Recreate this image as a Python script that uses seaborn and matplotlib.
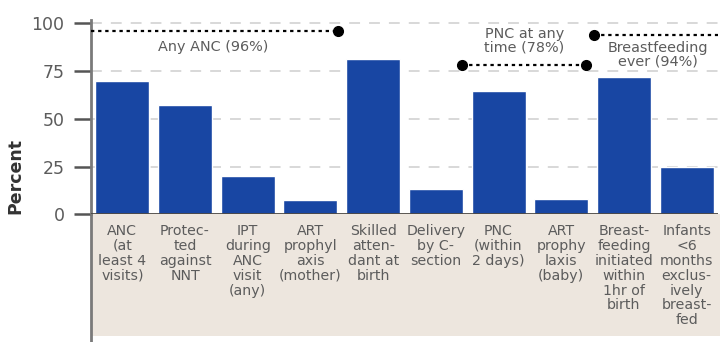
import matplotlib
matplotlib.use("Agg")
import matplotlib.pyplot as plt
from matplotlib.patches import Rectangle
from matplotlib.lines import Line2D
import seaborn as sns
import pandas as pd

# Coverage of maternal and newborn health interventions (percent)
categories = [
    "ANC\n(at\nleast 4\nvisits)",
    "Protec-\nted\nagainst\nNNT",
    "IPT\nduring\nANC\nvisit\n(any)",
    "ART\nprophyl\naxis\n(mother)",
    "Skilled\natten-\ndant at\nbirth",
    "Delivery\nby C-\nsection",
    "PNC\n(within\n2 days)",
    "ART\nprophy\nlaxis\n(baby)",
    "Breast-\nfeeding\ninitiated\nwithin\n1hr of\nbirth",
    "Infants\n<6\nmonths\nexclus-\nively\nbreast-\nfed",
]
values = [70, 57, 20, 7.5, 81.5, 13.5, 64.5, 8, 72, 25]

# Reference levels shown as dotted lines
ref_names = ["Any ANC (96%)", "PNC at any\ntime (78%)", "Breastfeeding\never (94%)"]
ref_values = [96, 78, 94]

yticks = [0, 25, 50, 75, 100]

sns.set_style("white")
plt.rcParams["font.family"] = ["DejaVu Sans"]

BAR = "#1846a3"
GRID = "#d6d6d6"
TXT = "#5c5c5c"
BEIGE = "#ede6de"

fig = plt.figure(figsize=(7.2, 3.42), dpi=100)

# shaded band under the plot that holds the category labels
fig.patches.append(Rectangle((91 / 720, 6 / 342), 1 - 91 / 720, 0.3734 - 6 / 342,
                             transform=fig.transFigure, facecolor=BEIGE,
                             edgecolor="none", zorder=-2))
fig.lines.append(Line2D([91 / 720, 91 / 720], [0, 0.3734], transform=fig.transFigure,
                        color="#7a7a7a", lw=2, zorder=-1))

ax = fig.add_axes([91 / 720, 0.3734, 627 / 720, 0.592])
ax.patch.set_alpha(0)

df = pd.DataFrame({"cat": categories, "val": values})
sns.barplot(data=df, x="cat", y="val", color=BAR, saturation=1, width=0.86, ax=ax, zorder=3)

ax.set_xlim(-0.5, 9.5)
ax.set_ylim(0, 106)
ax.set_yticks(yticks)
for y in yticks[1:]:
    ax.axhline(y, color=GRID, lw=1.3, ls=(0, (6, 5)), zorder=1)
ax.axhline(0, color="#4a4642", lw=2, zorder=4)

for s in ["top", "right", "bottom"]:
    ax.spines[s].set_visible(False)
ax.spines["left"].set_color("#7a7a7a")
ax.spines["left"].set_linewidth(2)
ax.spines["left"].set_bounds(0, 101.5)

ax.tick_params(axis="y", left=True, length=12, width=1.8, color="#555555", pad=7,
               labelsize=12.5, labelcolor=TXT)
ax.tick_params(axis="x", bottom=False, length=0, pad=7)
for lab in ax.get_xticklabels():
    lab.set_fontsize(10.2)
    lab.set_color(TXT)
    lab.set_linespacing(1.08)
    lab.set_va("top")

ax.set_xlabel("")
ax.set_ylabel("Percent", fontsize=12.5, fontweight="bold", color="#333333")
ax.yaxis.set_label_coords(-0.106, 0.19)

dot = (0, (1.5, 1.7))
box = dict(facecolor="white", edgecolor="none", pad=1)

# Any ANC
ax.plot([-0.5, 3.44], [ref_values[0]] * 2, color="black", lw=1.6, ls=dot, zorder=5)
ax.plot(3.44, ref_values[0], "o", color="black", ms=7, zorder=6)
ax.text(1.45, 87.6, ref_names[0], ha="center", va="center", fontsize=10.4,
        color=TXT, bbox=box, zorder=4)

# PNC at any time
ax.plot([5.42, 7.39], [ref_values[1]] * 2, color="black", lw=1.6, ls=dot, zorder=5)
ax.plot([5.42, 7.39], [ref_values[1]] * 2, "o", color="black", ms=7, zorder=6)
ax.text(6.41, 90.7, ref_names[1], ha="center", va="center", fontsize=10.4,
        color=TXT, bbox=box, zorder=4, linespacing=0.95)

# Breastfeeding ever
ax.plot([7.52, 9.5], [ref_values[2]] * 2, color="black", lw=1.6, ls=dot, zorder=5,
        clip_on=False)
ax.plot(7.52, ref_values[2], "o", color="black", ms=7, zorder=6)
ax.text(8.54, 83.4, ref_names[2], ha="center", va="center", fontsize=10.4,
        color=TXT, bbox=box, zorder=4, linespacing=0.95)

fig.savefig("out.png", dpi=100)
